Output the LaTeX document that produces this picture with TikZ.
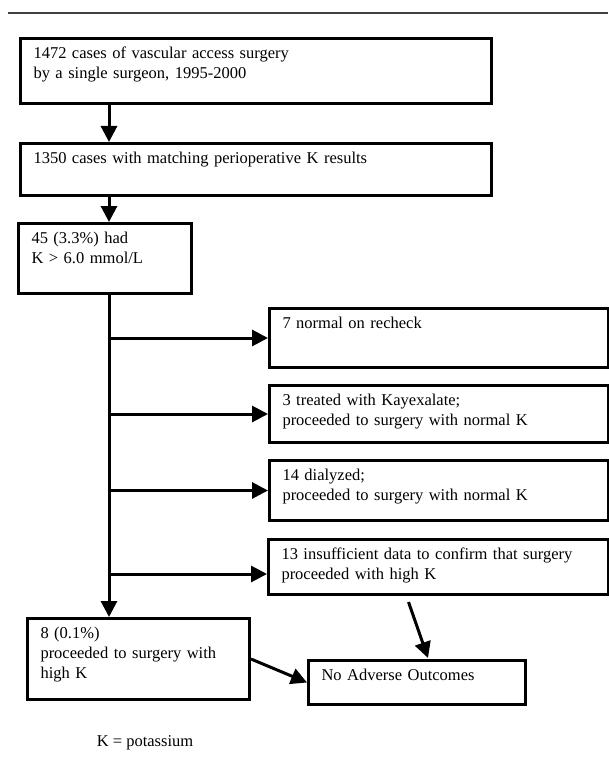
\documentclass[tikz,border=0pt]{standalone}
\usepackage{fontspec}
\setmainfont{Liberation Serif}
\usetikzlibrary{arrows.meta}
\usetikzlibrary{calc}

\newcommand{\chartfont}{\fontsize{16.5}{20}\selectfont}

\tikzset{
  stage/.style={draw, line width=3pt, anchor=north west, align=left,
    inner xsep=13pt, inner ysep=0pt, text height=20pt, font=\chartfont},
  flow/.style={line width=3pt, -{Triangle[width=16pt,length=16pt]}},
}

\begin{document}
\begin{tikzpicture}[x=1pt,y=-1pt]
    \useasboundingbox (0,0) rectangle (608,757);
    \draw[line width=1.5pt, black!75] (8,13) -- (608,13);

    \coordinate (axis) at (109,0);

    \node[stage, text width=445pt, text depth=45pt] (start) at (19,37)
      {1472 cases of vascular access surgery\\by a single surgeon, 1995-2000};
    \node[stage, text width=445pt, text depth=32pt] (matched) at (19,142)
      {1350 cases with matching perioperative K results};
    \node[stage, text width=147pt, text depth=50pt] (high) at (17,222)
      {45 (3.3\%) had\\K > 6.0 mmol/L};
    \node[stage, text width=313pt, text depth=39pt] (recheck) at (268,307)
      {7 normal on recheck};
    \node[stage, text width=313pt, text depth=37pt] (kayex) at (268,384)
      {3 treated with Kayexalate;\\proceeded to surgery with normal K};
    \node[stage, text width=313pt, text depth=40pt] (dialyzed) at (268,459)
      {14 dialyzed;\\proceeded to surgery with normal K};
    \node[stage, text width=314pt, text depth=35pt] (insuff) at (267,538)
      {13 insufficient data to confirm that surgery\\proceeded with high K};
    \node[stage, text width=196pt, text depth=61pt] (surgery) at (26,617)
      {8 (0.1\%)\\proceeded to surgery with\\high K};
    \node[stage, text width=191pt, text depth=24pt] (outcome) at (307,659)
      {No Adverse Outcomes};
    \node[font=\chartfont] (key) at (145,743) {K = potassium};

    \draw[flow] (start.south -| axis) -- (matched.north -| axis);
    \draw[flow] (matched.south -| axis) -- (high.north -| axis);
    \draw[flow] (high.south -| axis) -- (surgery.north -| axis);
    \draw[flow] (axis |- recheck.west) -- (recheck.west);
    \draw[flow] (axis |- kayex.west) -- (kayex.west);
    \draw[flow] (axis |- dialyzed.west) -- (dialyzed.west);
    \draw[flow] ($(axis |- insuff.west)+(0,7)$) -- ($(insuff.west)+(0,7)$);
    \draw[flow] ($(insuff.south)+(-30,6)$) -- ($(outcome.north)+(11,-1)$);
    \draw[flow] (surgery.east) -- (outcome.west);
  \end{tikzpicture}
\end{document}
